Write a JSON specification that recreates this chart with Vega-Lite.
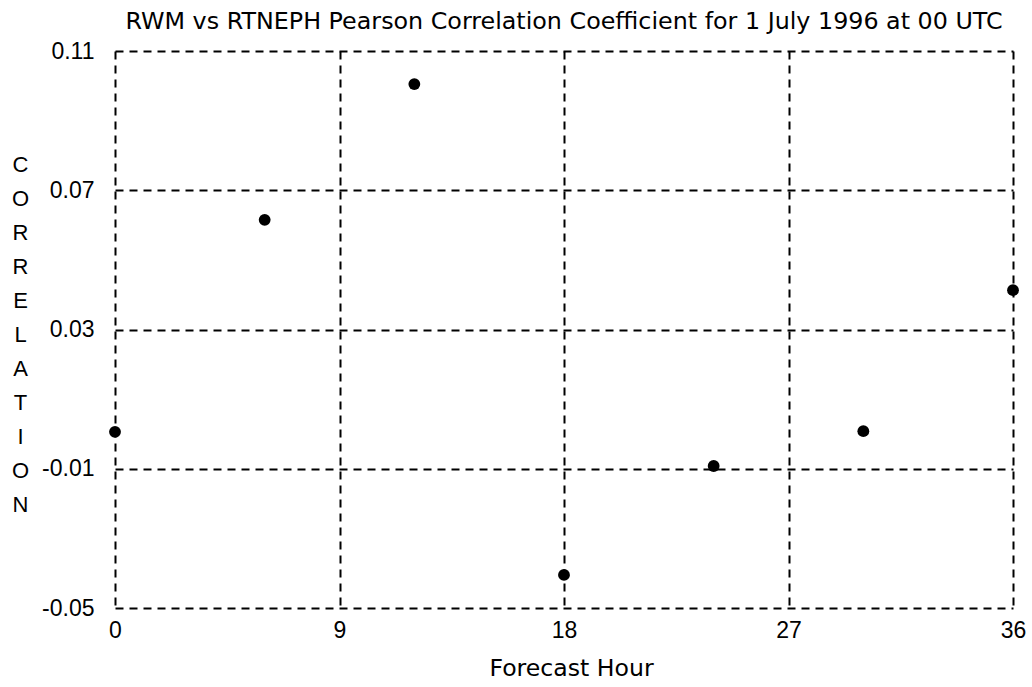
{
  "$schema": "https://vega.github.io/schema/vega-lite/v6.json",
  "autosize": "none",
  "width": 898,
  "height": 557,
  "padding": {"left": 115, "top": 51, "right": 19, "bottom": 79},
  "background": "white",
  "title": {
    "text": "RWM vs RTNEPH Pearson Correlation Coefficient for 1 July 1996 at 00 UTC",
    "font": "DejaVu Sans",
    "fontSize": 23.8,
    "fontWeight": "normal",
    "color": "black",
    "anchor": "middle",
    "offset": 6
  },
  "config": {
    "view": {"stroke": null},
    "axis": {
      "labelFont": "Liberation Sans",
      "titleFont": "DejaVu Sans",
      "labelColor": "black",
      "titleColor": "black",
      "titleFontWeight": "normal",
      "labelFlush": false,
      "labelOverlap": false,
      "domain": false,
      "ticks": false,
      "grid": true,
      "gridColor": "black",
      "gridOpacity": 1,
      "gridWidth": 2,
      "gridDash": [8, 6]
    }
  },
  "data": {
    "values": [
      {"hour": 0, "corr": 0.0006},
      {"hour": 6, "corr": 0.0615},
      {"hour": 12, "corr": 0.1005},
      {"hour": 18, "corr": -0.0405},
      {"hour": 24, "corr": -0.0092},
      {"hour": 30, "corr": 0.0008},
      {"hour": 36, "corr": 0.0413}
    ]
  },
  "mark": {"type": "point", "filled": true, "color": "black", "opacity": 1, "size": 140, "shape": "circle"},
  "encoding": {
    "x": {
      "field": "hour",
      "type": "quantitative",
      "scale": {"domain": [0, 36], "nice": false, "zero": false},
      "axis": {
        "values": [0, 9, 18, 27, 36],
        "title": "Forecast Hour",
        "labelFontSize": 23,
        "labelPadding": 11,
        "titleFontSize": 23.6,
        "titlePadding": 14,
        "titleX": 456
      }
    },
    "y": {
      "field": "corr",
      "type": "quantitative",
      "scale": {"domain": [-0.05, 0.11], "nice": false, "zero": false},
      "axis": {
        "values": [-0.05, -0.01, 0.03, 0.07, 0.11],
        "labelExpr": "datum.value < 0 ? '-' + format(-datum.value, '.2f') : format(datum.value, '.2f')",
        "labelFontSize": 23,
        "labelPadding": 21,
        "title": ["C", "O", "R", "R", "E", "L", "A", "T", "I", "O", "N"],
        "titleFont": "Liberation Sans",
        "titleFontSize": 22,
        "titleAngle": 0,
        "titleAlign": "center",
        "titleBaseline": "top",
        "titleLineHeight": 34,
        "titleX": -95,
        "titleY": 103
      }
    }
  }
}
